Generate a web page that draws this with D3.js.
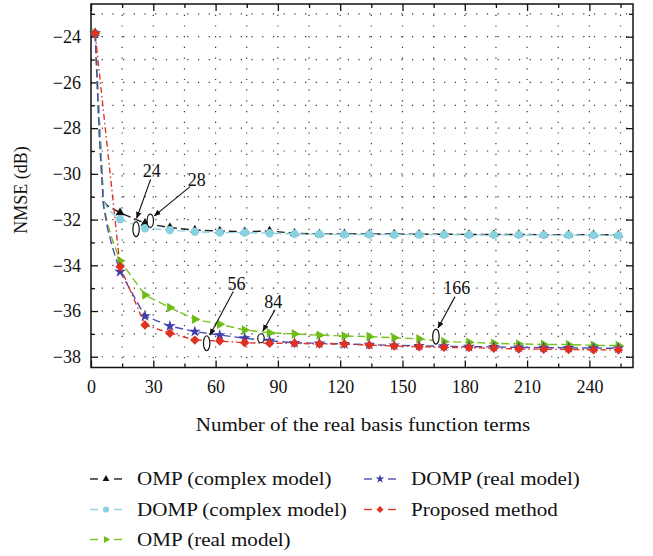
<!DOCTYPE html>
<html>
<head>
<meta charset="utf-8">
<script src="https://cdn.jsdelivr.net/npm/d3@7"></script>
<style>
  html, body { margin: 0; padding: 0; background: #fff; }
  svg { display: block; }
  svg text { font-family: "Liberation Serif", "Times New Roman", serif !important; fill: #111; }
</style>
</head>
<body>
<svg id="chart" width="653" height="556"></svg>
<script>
// ---------------- data ----------------
const xs = [2, 4, 6, 8, 10, 12, 14, 26, 38, 50, 62, 74, 86, 98, 110, 122, 134, 146, 158, 170, 182, 194, 206, 218, 230, 242, 254];

const ompComplex = [-23.85, -27.6, -31.2, -31.4, -31.5, -31.6, -31.7, -32.16, -32.35, -32.46, -32.5, -32.53, -32.5, -32.6, -32.63, -32.62, -32.63, -32.63, -32.64, -32.64, -32.65, -32.65, -32.65, -32.66, -32.66, -32.66, -32.67];
const dompComplex = [-23.85, -27.6, -31.2, -31.5, -31.7, -31.85, -31.99, -32.38, -32.46, -32.53, -32.57, -32.57, -32.6, -32.63, -32.64, -32.65, -32.65, -32.66, -32.66, -32.66, -32.67, -32.67, -32.67, -32.68, -32.68, -32.68, -32.69];
const ompReal = [-23.85, -28.3, -31.3, -32.2, -32.8, -33.3, -33.8, -35.3, -35.85, -36.36, -36.58, -36.83, -36.95, -37.0, -37.06, -37.09, -37.12, -37.17, -37.22, -37.34, -37.37, -37.41, -37.44, -37.46, -37.47, -37.5, -37.51];
const dompReal = [-23.85, -28.3, -31.4, -32.4, -33.1, -33.7, -34.28, -36.22, -36.66, -36.9, -37.05, -37.19, -37.3, -37.39, -37.41, -37.44, -37.47, -37.5, -37.52, -37.54, -37.56, -37.57, -37.59, -37.6, -37.61, -37.62, -37.63];
const proposed = [-23.85, null, null, null, null, null, -34.06, -36.61, -36.97, -37.27, -37.31, -37.39, -37.41, -37.41, -37.44, -37.44, -37.49, -37.53, -37.56, -37.59, -37.6, -37.63, -37.66, -37.67, -37.68, -37.7, -37.7];

const seriesNames = ["OMP (complex model)", "DOMP (complex model)", "OMP (real model)", "DOMP (real model)", "Proposed method"];

const xTickLabels = [0, 30, 60, 90, 120, 150, 180, 210, 240];
const yTickLabels = [-24, -26, -28, -30, -32, -34, -36, -38];

// annotations: label, ellipse centre (data), label centre (data), arrow start & end (data)
const annotations = [
  { label: "24",  ex: 21.7,  ey: -32.42, lx: 29.2,  ly: -29.84, ax1: 28.7,  ay1: -30.24, ax2: 22.0,  ay2: -31.94 },
  { label: "28",  ex: 28.55, ey: -32.05, lx: 50.9,  ly: -30.24, ax1: 47.7,  ay1: -30.56, ax2: 30.5,  ay2: -31.84 },
  { label: "56",  ex: 55.7,  ey: -37.41, lx: 70.1,  ly: -34.79, ax1: 68.5,  ay1: -35.15, ax2: 57.3,  ay2: -37.05 },
  { label: "84",  ex: 81.85, ey: -37.19, lx: 87.8,  ly: -35.59, ax1: 88.6,  ay1: -35.95, ax2: 82.8,  ay2: -36.87 },
  { label: "166", ex: 166.1, ey: -37.12, lx: 176.1, ly: -35.0,  ax1: 175.3, ay1: -35.37, ax2: 167.1, ay2: -36.74 }
];

// ---------------- styling ----------------
const styles = [
  { line: "#222222", fill: "#111111", dash: "8,4",       symbol: d3.symbolTriangle, size: 36, rotate: 0 },
  { line: "#8fd4e2", fill: "#88d1e1", dash: "8,4",       symbol: d3.symbolCircle,   size: 55, rotate: 0 },
  { line: "#78c31e", fill: "#6fbd14", dash: "8,4",       symbol: d3.symbolTriangle, size: 40, rotate: 90 },
  { line: "#4d4db0", fill: "#3c3caa", dash: "8,4",       symbol: d3.symbolStar,     size: 42, rotate: 0 },
  { line: "#e2362b", fill: "#e0301f", dash: "6,3,1.5,3", symbol: d3.symbolSquare,   size: 44, rotate: 45 }
];
const seriesValues = [ompComplex, dompComplex, ompReal, dompReal, proposed];

const svg = d3.select("#chart");
const L = 91, R = 633, T = 4, B = 367.5;
const x = d3.scaleLinear().domain([0, 261]).range([L, R]);
const y = d3.scaleLinear().domain([-38.47, -22.57]).range([B, T]);

// grid
const gridX = d3.range(15, 261, 15);
const gridY = d3.range(-38, -22.5, 1);
const grid = svg.append("g").attr("stroke", "#333").attr("stroke-width", 1.2).attr("stroke-dasharray", "1.2,9.5");
grid.selectAll("line.gx").data(gridX).join("line").attr("class", "gx")
  .attr("x1", d => x(d)).attr("x2", d => x(d)).attr("y1", T).attr("y2", B);
grid.selectAll("line.gy").data(gridY).join("line").attr("class", "gy")
  .attr("x1", L).attr("x2", R).attr("y1", d => y(d)).attr("y2", d => y(d));

// axes
const xMinor = d3.range(15, 261, 30);
const yMinor = d3.range(-37, -22.5, 2);
function styleAxis(g) {
  g.attr("font-family", null).attr("font-size", null);
  g.select(".domain").remove();
  g.selectAll("line").attr("stroke", "#111").attr("stroke-width", 1.3);
  g.selectAll("text").attr("fill", "#111").style("font-size", "18px");
}

svg.append("g").attr("transform", `translate(0,${B})`)
  .call(d3.axisBottom(x).tickValues(xTickLabels).tickSize(-7).tickPadding(13).tickFormat(d3.format("d")))
  .call(styleAxis);
svg.append("g").attr("transform", `translate(0,${B})`)
  .call(d3.axisBottom(x).tickValues(xMinor).tickSize(-4).tickFormat(""))
  .call(styleAxis);
svg.append("g").attr("transform", `translate(0,${T})`)
  .call(d3.axisTop(x).tickValues(xTickLabels).tickSize(-7).tickFormat(""))
  .call(styleAxis);
svg.append("g").attr("transform", `translate(0,${T})`)
  .call(d3.axisTop(x).tickValues(xMinor).tickSize(-4).tickFormat(""))
  .call(styleAxis);

svg.append("g").attr("transform", `translate(${L},0)`)
  .call(d3.axisLeft(y).tickValues(yTickLabels).tickSize(-7).tickPadding(10).tickFormat(d3.format("d")))
  .call(styleAxis);
svg.append("g").attr("transform", `translate(${L},0)`)
  .call(d3.axisLeft(y).tickValues(yMinor).tickSize(-4).tickFormat(""))
  .call(styleAxis);
svg.append("g").attr("transform", `translate(${R},0)`)
  .call(d3.axisRight(y).tickValues(yTickLabels).tickSize(-7).tickFormat(""))
  .call(styleAxis);
svg.append("g").attr("transform", `translate(${R},0)`)
  .call(d3.axisRight(y).tickValues(yMinor).tickSize(-4).tickFormat(""))
  .call(styleAxis);

// frame
svg.append("rect").attr("x", L).attr("y", T).attr("width", R - L).attr("height", B - T)
  .attr("fill", "none").attr("stroke", "#111").attr("stroke-width", 1.5);

// series
const lineGen = d3.line().x(d => x(d.x)).y(d => y(d.y));
seriesValues.forEach((vals, i) => {
  const st = styles[i];
  const pts = xs.map((xv, j) => ({ x: xv, y: vals[j] })).filter(d => d.y !== null);
  const g = svg.append("g");
  g.append("path").datum(pts).attr("d", lineGen)
    .attr("fill", "none").attr("stroke", st.line).attr("stroke-width", 1.4)
    .attr("stroke-dasharray", st.dash);
  const mk = pts.filter(d => (d.x - 2) % 12 === 0);
  g.selectAll("path.m").data(mk).join("path").attr("class", "m")
    .attr("d", d3.symbol().type(st.symbol).size(st.size))
    .attr("transform", d => `translate(${x(d.x)},${y(d.y)}) rotate(${st.rotate})`)
    .attr("fill", st.fill);
});

// annotations
svg.append("defs").append("marker").attr("id", "arrow")
  .attr("viewBox", "0 0 10 10").attr("refX", 9).attr("refY", 5)
  .attr("markerWidth", 7).attr("markerHeight", 7).attr("markerUnits", "userSpaceOnUse")
  .attr("orient", "auto")
  .append("path").attr("d", "M0,1 L10,5 L0,9 Z").attr("fill", "#111");

const ann = svg.append("g");
annotations.forEach(a => {
  ann.append("line").attr("x1", x(a.ax1)).attr("y1", y(a.ay1)).attr("x2", x(a.ax2)).attr("y2", y(a.ay2))
    .attr("stroke", "#111").attr("stroke-width", 1.1).attr("marker-end", "url(#arrow)");
  const ryPx = a.label === "84" ? 4.5 : (a.label === "28" ? 6.7 : 7.5);
  ann.append("ellipse").attr("cx", x(a.ex)).attr("cy", y(a.ey)).attr("rx", 3.2).attr("ry", ryPx)
    .attr("fill", "#fff").attr("stroke", "#111").attr("stroke-width", 1.2);
  ann.append("text").attr("x", x(a.lx)).attr("y", y(a.ly)).attr("dy", "0.35em")
    .attr("text-anchor", "middle").style("font-size", "18px").text(a.label);
});

// axis titles
const WIDEN = 1.17;
function widen(sel) {
  sel.each(function () {
    const w = this.getComputedTextLength();
    d3.select(this).attr("textLength", w * WIDEN).attr("lengthAdjust", "spacingAndGlyphs");
  });
}
svg.append("text").attr("x", (L + R) / 2 + 1).attr("y", 431).attr("text-anchor", "middle")
  .style("font-size", "18px").text("Number of the real basis function terms").call(widen);
svg.append("text").attr("transform", `translate(27,190) rotate(-90)`).attr("text-anchor", "middle")
  .style("font-size", "18px").text("NMSE (dB)");

// legend
const legendPos = [
  { col: 0, row: 0 }, { col: 0, row: 1 }, { col: 0, row: 2 }, { col: 1, row: 0 }, { col: 1, row: 1 }
];
const colX = [90, 364];
const rowY = [485, 515.5, 545.5];
const lg = svg.append("g");
seriesNames.forEach((name, i) => {
  const st = styles[i];
  const p = legendPos[i];
  const x0 = colX[p.col], yb = rowY[p.row], yc = yb - 6;
  lg.append("line").attr("x1", x0).attr("x2", x0 + 8).attr("y1", yc).attr("y2", yc)
    .attr("stroke", st.line).attr("stroke-width", 1.4);
  lg.append("line").attr("x1", x0 + 24).attr("x2", x0 + 32).attr("y1", yc).attr("y2", yc)
    .attr("stroke", st.line).attr("stroke-width", 1.4);
  lg.append("path").attr("d", d3.symbol().type(st.symbol).size(st.size * 0.55))
    .attr("transform", `translate(${x0 + 16},${yc}) rotate(${st.rotate})`).attr("fill", st.fill);
  lg.append("text").attr("x", x0 + 47).attr("y", yb).style("font-size", "18px").text(name).call(widen);
});
</script>
</body>
</html>
